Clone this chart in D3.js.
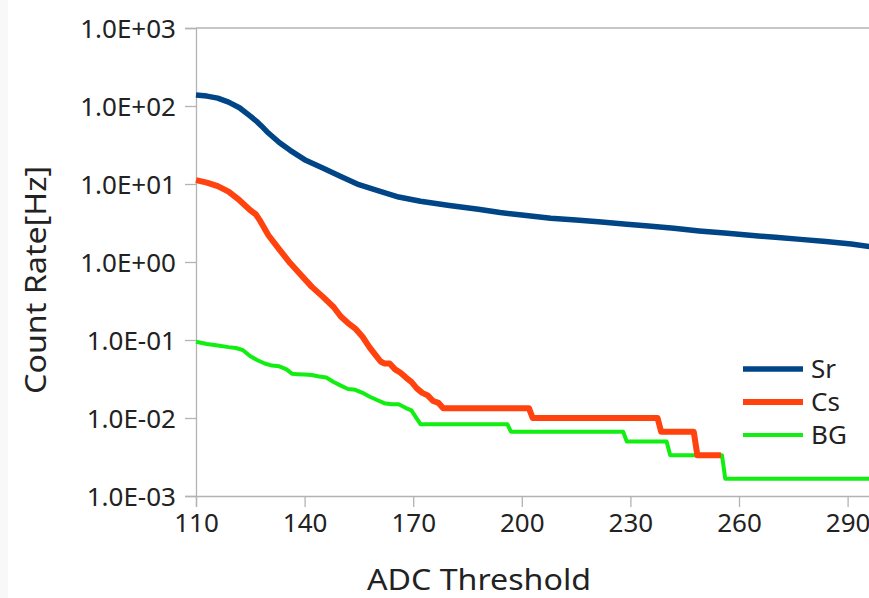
<!DOCTYPE html>
<html><head><meta charset="utf-8">
<script src="https://cdn.jsdelivr.net/npm/d3@7"></script>
<style>body{margin:0;background:#fff}svg{display:block}text{font-family:"Noto Sans",sans-serif;fill:#222}</style>
</head><body>
<script>
const xTicks = [110,140,170,200,230,260,290];
const yTicks = [1e3,1e2,1e1,1e0,1e-1,1e-2,1e-3];
const yTickLabels = ["1.0E+03","1.0E+02","1.0E+01","1.0E+00","1.0E-01","1.0E-02","1.0E-03"];
const seriesNames = ["Sr","Cs","BG"];
const seriesColors = ["#004586","#ff420e","#11ee11"];

const srX = [110,113,116,119,122,125,127,128,130,133,136,140,145,150,155,160,166,172,180,188,194,200,208,215,222,229,235,242,249,256,263,270,277,284,291,297,300];
const srY = [138,134,126,112,95,74,62,56,45,34,27,20.5,16,12.5,9.8,8.3,6.8,6.0,5.3,4.75,4.3,4.0,3.65,3.45,3.25,3.05,2.9,2.7,2.5,2.35,2.2,2.07,1.95,1.83,1.7,1.56,1.5];

const csX = [110,113,116,119,122,125,126.5,127.5,130,133,136,139,142,145,148,150,152,154,156,158,159.5,161,162,163.5,165,166.5,168,169.5,171,172.5,174,175.5,177,178.3,202,203,237.5,238.5,247.5,248.5,255];
const csY = [11.2,10.4,9.4,8.0,6.2,4.6,4.1,3.5,2.2,1.45,0.97,0.68,0.48,0.36,0.265,0.2,0.165,0.14,0.11,0.08,0.065,0.053,0.05,0.05,0.042,0.038,0.033,0.029,0.024,0.021,0.0195,0.0165,0.0156,0.0133,0.0133,0.01,0.01,0.00667,0.00667,0.00333,0.00333];

const bgX = [110,113,116,119,121,123,125,127,129,131,133,135,136.5,138,140,142,144,146,148,150,152,154,156,158,160,162,164,166,168,169.5,172,196,197,228,229,240,241,255.3,256.2,300];
const bgY = [0.095,0.089,0.085,0.081,0.079,0.074,0.062,0.055,0.05,0.047,0.046,0.042,0.037,0.0365,0.036,0.0355,0.034,0.033,0.029,0.026,0.0235,0.023,0.021,0.0187,0.017,0.0155,0.015,0.015,0.0134,0.0125,0.00833,0.00833,0.00667,0.00667,0.005,0.005,0.00333,0.00333,0.00167,0.00167];

const W = 869, H = 598;
const svg = d3.select("body").append("svg").attr("width", W).attr("height", H);
svg.append("rect").attr("x",0).attr("y",0).attr("width",8).attr("height",H).attr("fill","#f8f8f8");

const x = d3.scaleLinear().domain([110,300]).range([196, 196 + 190*3.62]);
const y = d3.scaleLog().domain([1e-3,1e3]).range([496, 28]);

const axisColor = "#b3b3b3";
svg.append("line").attr("x1",x(110)).attr("x2",W).attr("y1",y(1e3)).attr("y2",y(1e3)).attr("stroke",axisColor).attr("stroke-width",1.3);

const yAxis = d3.axisLeft(y).tickValues(yTicks).tickFormat((d,i)=>yTickLabels[i]).tickSize(11).tickPadding(9);
const gy = svg.append("g").attr("transform",`translate(${x(110)},0)`).call(yAxis);
gy.select(".domain").attr("stroke",axisColor).attr("stroke-width",1.3);
gy.selectAll(".tick line").attr("stroke",axisColor).attr("stroke-width",1.3);
gy.selectAll(".tick text").attr("font-size",26).attr("font-family","'Noto Sans',sans-serif").attr("fill","#222").attr("dy","0.35em");

const xAxis = d3.axisBottom(x).tickValues(xTicks).tickFormat(d3.format("d")).tickSize(11).tickPadding(7);
const gx = svg.append("g").attr("transform",`translate(0,${y(1e-3)})`).call(xAxis);
gx.select(".domain").attr("stroke",axisColor).attr("stroke-width",1.3);
gx.selectAll(".tick line").attr("stroke",axisColor).attr("stroke-width",1.3);
gx.selectAll(".tick text").attr("font-size",26).attr("font-family","'Noto Sans',sans-serif").attr("fill","#222");

const line = d3.line().x(d=>x(d[0])).y(d=>y(d[1]));
const zip = (a,b)=>a.map((v,i)=>[v,b[i]]);
const seriesData = [zip(srX,srY), zip(csX,csY), zip(bgX,bgY)];
const widths = [5.5,6,4];
[2,1,0].forEach(i=>{
  svg.append("path").datum(seriesData[i]).attr("d",line).attr("fill","none")
    .attr("stroke",seriesColors[i]).attr("stroke-width",widths[i]).attr("stroke-linejoin","round");
});

const leg = svg.append("g");
seriesNames.forEach((n,i)=>{
  const ly = 369 + i*33;
  leg.append("line").attr("x1",743).attr("x2",803).attr("y1",ly).attr("y2",ly).attr("stroke",seriesColors[i]).attr("stroke-width",widths[i]);
  leg.append("text").attr("x",811).attr("y",ly).attr("dy","0.36em").attr("font-size",26).text(n);
});

svg.append("text").attr("x",479).attr("y",590).attr("text-anchor","middle").attr("font-size",29)
  .attr("textLength",224).attr("lengthAdjust","spacingAndGlyphs").text("ADC Threshold");
svg.append("text").attr("transform","translate(46,280) rotate(-90)").attr("text-anchor","middle").attr("font-size",29)
  .attr("textLength",228).attr("lengthAdjust","spacingAndGlyphs").text("Count Rate[Hz]");
</script>
</body></html>
